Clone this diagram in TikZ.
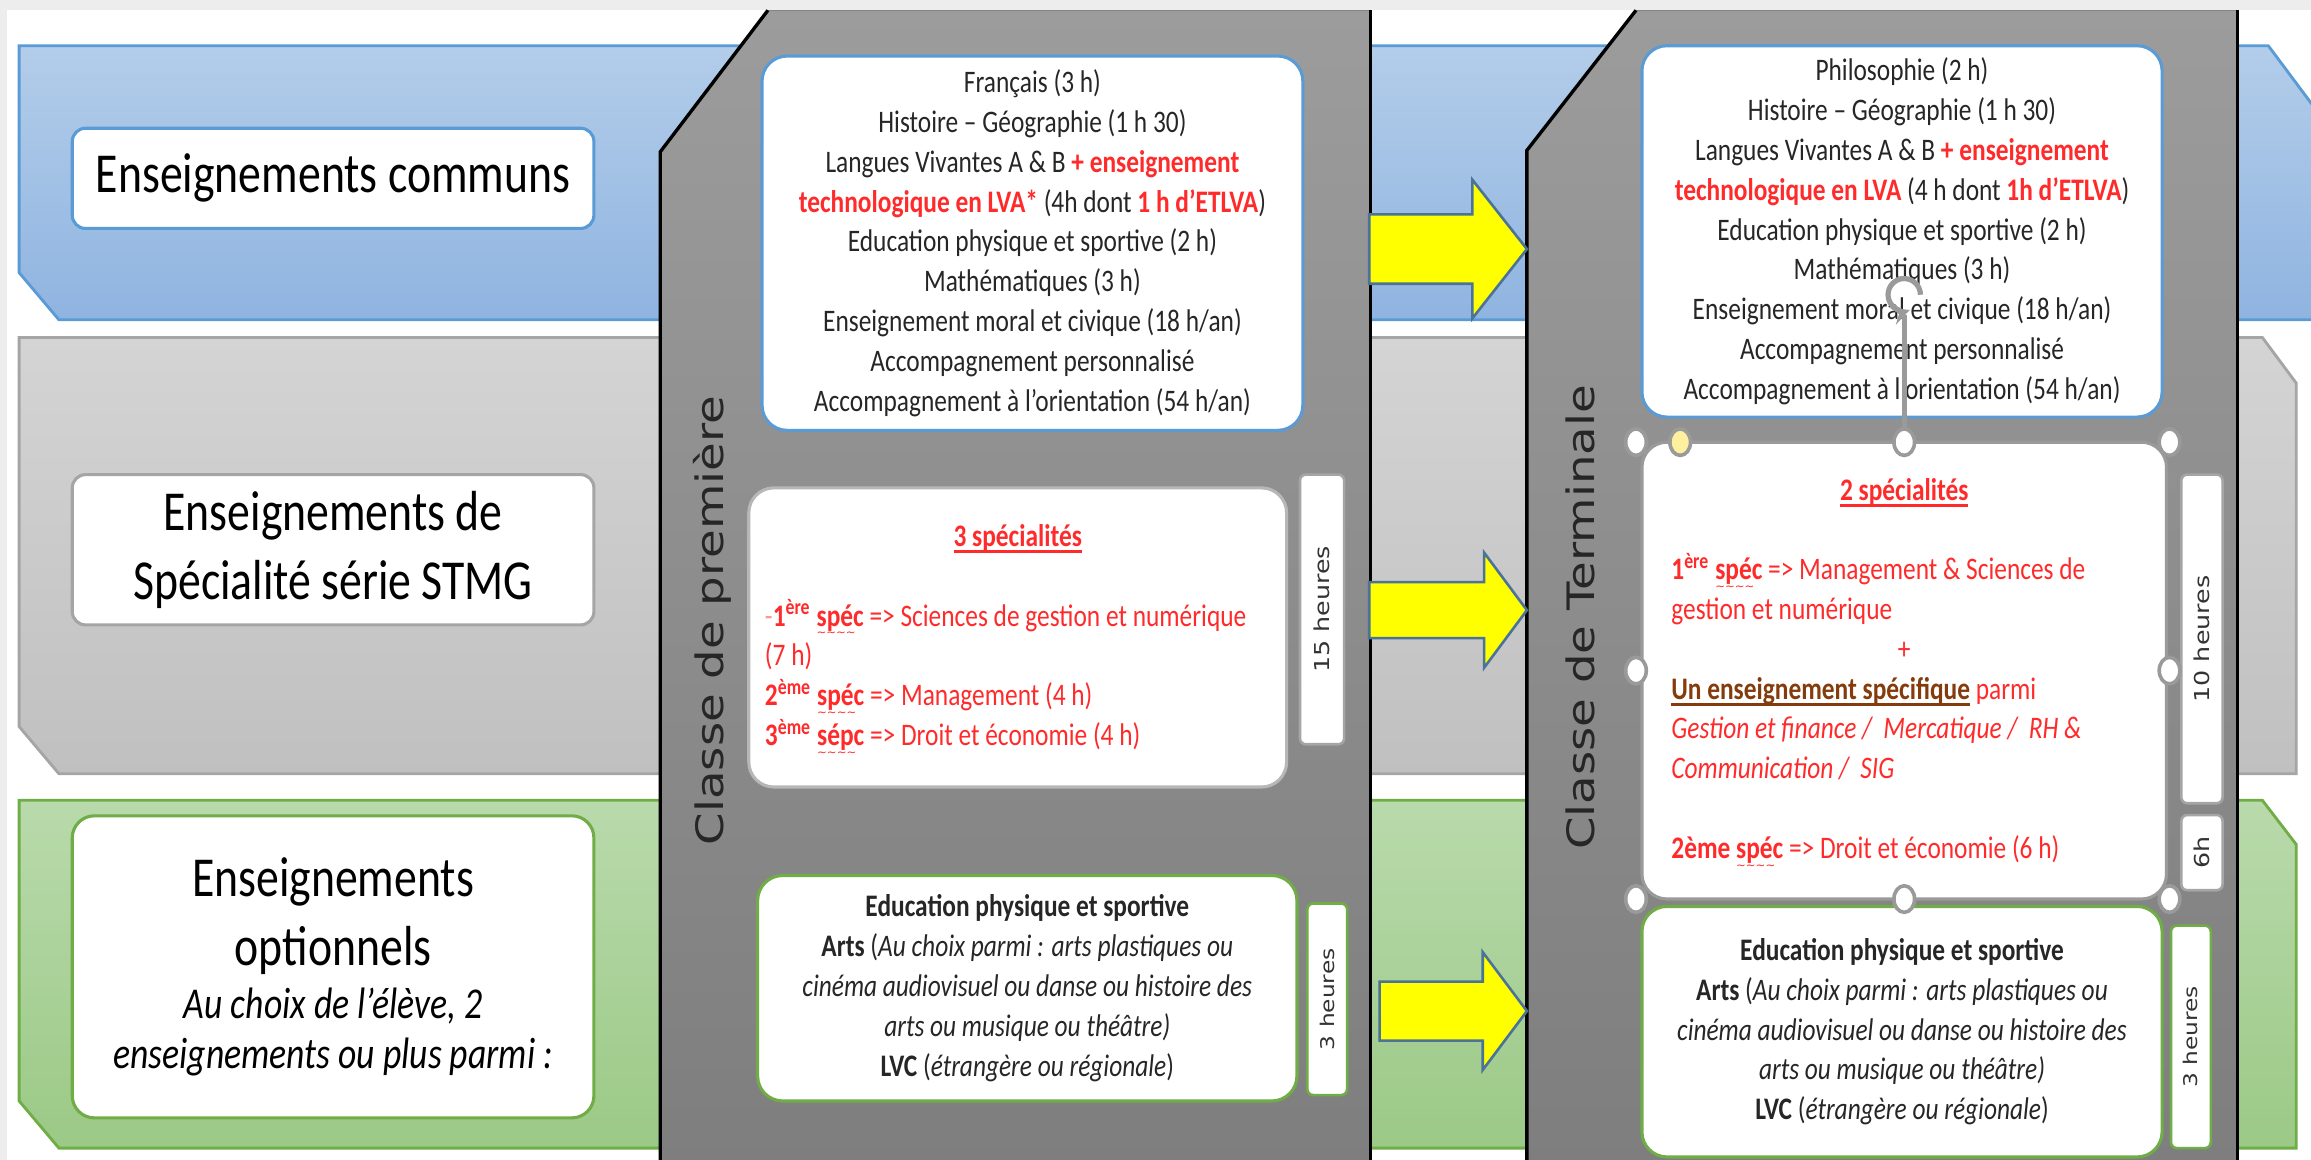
\documentclass[tikz,border=0pt]{standalone}
\usepackage{fontspec}
\setmainfont{Carlito}[FakeStretch=0.81]
\newfontfamily\classefont{DejaVu Sans}
\usepackage{graphicx}
\usetikzlibrary{positioning}
\definecolor{fond}{HTML}{EDEDED}
\definecolor{bleubord}{HTML}{5B9BD5}
\definecolor{bleuhaut}{HTML}{B3CDEA}
\definecolor{bleubas}{HTML}{8FB4E0}
\definecolor{grisbord}{HTML}{A5A5A5}
\definecolor{grishaut}{HTML}{D4D4D4}
\definecolor{grisbas}{HTML}{C0C0C0}
\definecolor{vertbord}{HTML}{70AD47}
\definecolor{verthaut}{HTML}{B9DAAC}
\definecolor{vertbas}{HTML}{9BC986}
\definecolor{panneauhaut}{HTML}{9C9C9C}
\definecolor{panneaubas}{HTML}{7E7E7E}
\definecolor{rouge}{HTML}{FF2B2B}
\definecolor{brun}{HTML}{843C0C}
\definecolor{jaune}{HTML}{FFFF00}
\definecolor{flechebord}{HTML}{4A7397}
\definecolor{poigneebord}{HTML}{9A9A9A}
\definecolor{poigneejaune}{HTML}{FFF0A0}
\tikzstyle{bande}=[line width=1.1pt]
\tikzstyle{etiquette}=[draw, fill=white, line width=1.2pt, rounded corners=0.18cm,
                       minimum width=7.08cm, align=center, inner sep=0pt,
                       font=\fontsize{21.8}{26.65}\selectfont]
\tikzstyle{boite}=[draw, fill=white, line width=1.2pt, rounded corners=0.34cm,
                   align=center, inner sep=0pt, text=black!85,
                   font=\fontsize{12.1}{15.37}\selectfont]
\tikzstyle{duree}=[draw, fill=white, line width=1pt, rounded corners=0.08cm, rotate=90,
                   inner sep=0pt, text=black!80, font=\classefont\fontsize{9.8}{11}\selectfont]
\tikzstyle{classe}=[rotate=90, inner sep=0pt, text=black!85,
                    font=\classefont\fontsize{18}{20}\selectfont]
\tikzstyle{bord}=[line width=1.3pt, black]
\tikzstyle{fleche}=[fill=jaune, draw=flechebord, line width=1pt]
\tikzstyle{poignee}=[fill=white, draw=poigneebord, line width=1.4pt]
\newsavebox\boitetexte
\newcommand{\rouge}[1]{\textcolor{rouge}{\textbf{#1}}}
\newcommand{\tasse}[1]{\scalebox{1}[0.81]{#1}}
\newcommand{\souligne}[1]{\sbox\boitetexte{#1}\rlap{\rule[-2.6pt]{\wd\boitetexte}{1.1pt}}\usebox\boitetexte}
\newcommand{\ondule}[1]{\sbox\boitetexte{#1}\rlap{\raisebox{-4.2pt}[0pt][0pt]{\textcolor{rouge}{%
  \fontsize{4.5}{5}\classefont\mdseries\leaders\hbox{\char"7E}\hskip\wd\boitetexte}}}\usebox\boitetexte}
\begin{document}
\begin{tikzpicture}[x=0.02cm, y=-0.02cm]
\useasboundingbox (0,0) rectangle (1568,787);
\clip (0,0) rectangle (1568,787);
\fill[fond] (0,0) rectangle (1568,7);
\fill[fond] (0,0) rectangle (5,787);

\path[bande, draw=bleubord, top color=bleuhaut, bottom color=bleubas]
  (13,31) -- (1539,31) -- (1580,86) -- (1580,217) -- (40,217) -- (13,185) -- cycle;
\path[bande, draw=grisbord, top color=grishaut, bottom color=grisbas]
  (13,229) -- (1535,229) -- (1558,260) -- (1558,525) -- (40,525) -- (13,493) -- cycle;
\path[bande, draw=vertbord, top color=verthaut, bottom color=vertbas]
  (13,543) -- (1535,543) -- (1558,573) -- (1558,779) -- (40,779) -- (13,747) -- cycle;

\fill[top color=panneauhaut, bottom color=panneaubas]
  (448,790) -- (448,103) -- (521,7) -- (930,7) -- (930,790) -- cycle;
\draw[bord] (448,790) -- (448,103) -- (521,7);
\draw[bord] (930,7) -- (930,790);
\fill[top color=panneauhaut, bottom color=panneaubas]
  (1036,790) -- (1036,102) -- (1110,7) -- (1518,7) -- (1518,790) -- cycle;
\draw[bord] (1036,790) -- (1036,102) -- (1110,7);
\draw[bord] (1518,7) -- (1518,790);

\foreach \xa/\yc/\sh/\hh/\xh in {929/169/23.5/47/999, 929/414/19/39/1007, 936/686/20/40/1006}
  \draw[fleche] (\xa,\yc-\sh) -- (\xh,\yc-\sh) -- (\xh,\yc-\hh) -- (1036,\yc)
    -- (\xh,\yc+\hh) -- (\xh,\yc+\sh) -- (\xa,\yc+\sh) -- cycle;

\node[etiquette, draw=bleubord, minimum height=1.36cm] (communs) at (226,121)
  {Enseignements communs};
\node[etiquette, draw=grisbord, minimum height=2.04cm] (specialite) at (226,373)
  {Enseignements de\\Spécialité série STMG};
\node[etiquette, draw=vertbord, rounded corners=0.3cm, minimum height=4.1cm] (optionnels) at (226,656)
  {Enseignements\\optionnels\\[-6.3pt]
   {\fontsize{17}{19.3}\selectfont\itshape Au choix de l’élève, 2}\\[-7.3pt]
   {\fontsize{17}{19.3}\selectfont\itshape enseignements ou plus parmi :}};

\node[classe] (premiere) at (483,421) {\tasse{Classe de première}};
\node[classe] (terminale) at (1072,419) {\tasse{Classe de Terminale}};

\node[boite, draw=bleubord, minimum width=7.34cm, minimum height=5.08cm] (communs1) at (700.5,165)
  {Français (3 h)\\
   Histoire – Géographie (1 h 30)\\
   Langues Vivantes A \& B \rouge{+ enseignement}\\
   \rouge{technologique en LVA*} (4h dont \rouge{1 h d’ETLVA})\\
   Education physique et sportive (2 h)\\
   Mathématiques (3 h)\\
   Enseignement moral et civique (18 h/an)\\
   Accompagnement personnalisé\\
   Accompagnement à l’orientation (54 h/an)};
\node[boite, draw=grisbord!80, minimum width=7.3cm, minimum height=4.06cm,
      text width=6.86cm, align=flush left, text=rouge] (spe1) at (690.5,432.5)
  {\makebox[\linewidth]{\textbf{\souligne{3 spécialités}}}\\[15.37pt]
   \mbox{\textcolor{rouge!50}{-}\textbf{1\textsuperscript{ère} \ondule{spéc}} => Sciences de gestion et numérique}\\
   (7 h)\\
   \textbf{2\textsuperscript{ème} \ondule{spéc}} => Management (4 h)\\
   \textbf{3\textsuperscript{ème} \ondule{sépc}} => Droit et économie (4 h)};
\node[boite, draw=vertbord, minimum width=7.32cm, minimum height=3.06cm] (options1) at (697,670.5)
  {\textbf{Education physique et sportive}\\
   \textbf{Arts} (\textit{Au choix parmi : arts plastiques ou}\\
   \textit{cinéma audiovisuel ou danse ou histoire des}\\
   \textit{arts ou musique ou théâtre)}\\
   \textbf{LVC} (\textit{étrangère ou régionale})};
\node[duree, draw=grisbord, minimum width=3.66cm, minimum height=0.6cm] (h15) at (897,413.5)
  {\tasse{15 heures}};
\node[duree, draw=vertbord, minimum width=2.6cm, minimum height=0.54cm,
      font=\classefont\fontsize{9}{10}\selectfont] (h3a) at (900.5,678) {\tasse{3 heures}};

\node[boite, draw=bleubord, minimum width=7.06cm, minimum height=5.04cm] (communs2) at (1290.5,157)
  {Philosophie (2 h)\\
   Histoire – Géographie (1 h 30)\\
   Langues Vivantes A \& B \rouge{+ enseignement}\\
   \rouge{technologique en LVA} (4 h dont \rouge{1h d’ETLVA})\\
   Education physique et sportive (2 h)\\
   Mathématiques (3 h)\\
   Enseignement moral et civique (18 h/an)\\
   Accompagnement personnalisé\\
   Accompagnement à l’orientation (54 h/an)};
\node[boite, draw=poigneebord, minimum width=7.12cm, minimum height=6.2cm,
      text width=6.32cm, align=flush left, text=rouge] (spe2) at (1292,455)
  {\makebox[\linewidth]{\textbf{\souligne{2 spécialités}}}\\[15.37pt]
   \textbf{1\textsuperscript{ère} \ondule{spéc}} => Management \& Sciences de\\
   gestion et numérique\\
   \makebox[\linewidth]{+}\\
   \textcolor{brun}{\textbf{\souligne{Un enseignement spécifique}}} parmi\\
   \textit{Gestion et finance /\ \ Mercatique /\ \ RH \&}\\
   \textit{Communication /\ \ SIG}\\[15.37pt]
   \textbf{2ème \ondule{spéc}} => Droit et économie (6 h)};
\node[boite, draw=vertbord, minimum width=7.06cm, minimum height=3.4cm] (options2) at (1290.5,700)
  {\textbf{Education physique et sportive}\\
   \textbf{Arts} (\textit{Au choix parmi : arts plastiques ou}\\
   \textit{cinéma audiovisuel ou danse ou histoire des}\\
   \textit{arts ou musique ou théâtre)}\\
   \textbf{LVC} (\textit{étrangère ou régionale})};
\node[duree, draw=grisbord, minimum width=4.46cm, minimum height=0.56cm] (h10) at (1494,433.5)
  {\tasse{10 heures}};
\node[duree, draw=grisbord, minimum width=1.02cm, minimum height=0.56cm] (h6) at (1494,578.5)
  {\tasse{6h}};
\node[duree, draw=vertbord, minimum width=3.02cm, minimum height=0.54cm,
      font=\classefont\fontsize{9}{10}\selectfont] (h3b) at (1486.5,703.5) {\tasse{3 heures}};

\draw[poigneebord, line width=2pt] (spe2.north) -- (1292,214);
\draw[poigneebord, line width=2pt, -stealth] (1292,200) ++(0.22cm,0) arc[start angle=0, end angle=290, radius=0.22cm];
\foreach \x/\y in {1110/300, 1292/300, 1472/300, 1110/455, 1472/455, 1110/610, 1292/610, 1472/610}
  \draw[poignee] (\x,\y) ellipse (7 and 9);
\draw[poignee, fill=poigneejaune] (1140,300) ellipse (7 and 9);
\end{tikzpicture}
\end{document}
